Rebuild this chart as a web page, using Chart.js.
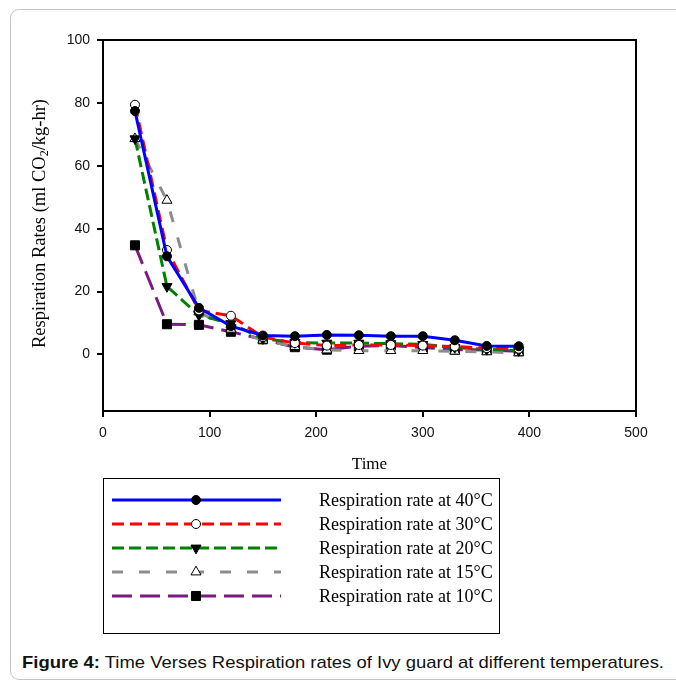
<!DOCTYPE html>
<html>
<head>
<meta charset="utf-8">
<script src="https://cdn.jsdelivr.net/npm/chart.js@4.4.1/dist/chart.umd.min.js"></script>
<style>
  html, body { margin: 0; padding: 0; background: #fff; overflow: hidden; }
  #frame {
    position: absolute; left: 10px; top: 9px; width: 700px; height: 671px;
    border: 1px solid #c4c4c4; border-radius: 9px; box-sizing: border-box;
  }
  #chart { position: absolute; left: 0; top: 0; }
  #caption {
    position: absolute; left: 22px; top: 653px; white-space: nowrap;
    font-family: "Liberation Sans", Arial, sans-serif; font-size: 17px; color: #111;
    transform-origin: 0 0;
  }
</style>
</head>
<body>
<div id="frame"></div>
<canvas id="chart" width="676" height="645"></canvas>
<div id="caption"><b>Figure 4:</b> Time Verses Respiration rates of Ivy guard at different temperatures.</div>
<script>
// === DATA ===
const times = [30, 60, 90, 120, 150, 180, 210, 240, 270, 300, 330, 360, 390];

const rate40 = [77.4, 31.2, 14.8, 9.0, 6.0, 5.8, 6.2, 6.1, 5.8, 5.8, 4.5, 2.7, 2.6];
const rate30 = [79.4, 33.2, 14.0, 12.3, 5.5, 3.6, 2.8, 3.0, 3.0, 2.8, 2.5, 2.0, 1.8];
const rate20 = [68.6, 21.6, 12.5, 9.8, 5.0, 3.8, 3.6, 3.6, 3.4, 3.2, 2.2, 1.6, 1.2];
const rate15 = [68.6, 49.0, 13.5, 8.0, 4.5, 2.5, 1.4, 1.2, 1.2, 1.2, 1.0, 0.8, 0.5];
const rate10 = [34.7, 9.6, 9.4, 7.2, 4.8, 2.3, 1.5, 2.6, 2.8, 2.2, 1.5, 1.4, 1.0];

const seriesLabels = [
  "Respiration rate at 40°C",
  "Respiration rate at 30°C",
  "Respiration rate at 20°C",
  "Respiration rate at 15°C",
  "Respiration rate at 10°C"
];

const xTicks = [0, 100, 200, 300, 400, 500];
const yTicks = [0, 20, 40, 60, 80, 100];

const xTitle = "Time";
const yTitleMain = "Respiration Rates (ml CO";
const yTitleSub = "2";
const yTitleEnd = "/kg-hr)";

// === LAYOUT ===
const area = { left: 103, right: 636, top: 40, bottom: 411 };
const serif = '"Liberation Serif", "Times New Roman", serif';
const sans = '"Liberation Sans", Arial, sans-serif';

function pts(arr) {
  return arr.map((v, i) => ({ x: times[i], y: v }));
}

const datasets = [
  { label: seriesLabels[0], data: pts(rate40), borderColor: "#0000ff", borderDash: [],
    pointStyle: "circle", pointRadius: 4.5, pointBackgroundColor: "#000", pointBorderColor: "#000", pointRotation: 0 },
  { label: seriesLabels[1], data: pts(rate30), borderColor: "#ff0000", borderDash: [12, 6],
    pointStyle: "circle", pointRadius: 4.5, pointBackgroundColor: "#fff", pointBorderColor: "#000", pointRotation: 0 },
  { label: seriesLabels[2], data: pts(rate20), borderColor: "#008000", borderDash: [12, 5],
    pointStyle: "triangle", pointRadius: 5.8, pointBackgroundColor: "#000", pointBorderColor: "#000", pointRotation: 180 },
  { label: seriesLabels[3], data: pts(rate15), borderColor: "#8c8c8c", borderDash: [11, 16],
    pointStyle: "triangle", pointRadius: 5.8, pointBackgroundColor: "#fff", pointBorderColor: "#000", pointRotation: 0 },
  { label: seriesLabels[4], data: pts(rate10), borderColor: "#7a1a82", borderDash: [20, 8],
    pointStyle: "rect", pointRadius: 6.4, pointBackgroundColor: "#000", pointBorderColor: "#000", pointRotation: 0 }
].map(d => Object.assign(d, { borderWidth: 3, pointBorderWidth: 1, tension: 0, fill: false }));

// frame, axis titles and the boxed legend
const extras = {
  id: "extras",
  afterDraw(chart) {
    const ctx = chart.ctx;
    const ca = chart.chartArea;
    ctx.save();

    // plot frame
    ctx.strokeStyle = "#000";
    ctx.lineWidth = 2;
    ctx.strokeRect(ca.left, ca.top, ca.right - ca.left, ca.bottom - ca.top);

    // x title
    ctx.fillStyle = "#000";
    ctx.font = "17px " + serif;
    ctx.textAlign = "center";
    ctx.textBaseline = "middle";
    ctx.fillText(xTitle, (ca.left + ca.right) / 2, 465);

    // y title with subscript
    ctx.save();
    ctx.translate(40, (ca.top + ca.bottom) / 2 - 2);
    ctx.rotate(-Math.PI / 2);
    ctx.textAlign = "left";
    ctx.textBaseline = "middle";
    const mainFont = "18.5px " + serif, subFont = "12px " + serif;
    ctx.font = mainFont;
    const w1 = ctx.measureText(yTitleMain).width;
    const w3 = ctx.measureText(yTitleEnd).width;
    ctx.font = subFont;
    const w2 = ctx.measureText(yTitleSub).width;
    let x0 = -(w1 + w2 + w3) / 2;
    ctx.font = mainFont;
    ctx.fillText(yTitleMain, x0, 0);
    ctx.font = subFont;
    ctx.fillText(yTitleSub, x0 + w1, 5);
    ctx.font = mainFont;
    ctx.fillText(yTitleEnd, x0 + w1 + w2, 0);
    ctx.restore();

    // legend box
    const box = { left: 103.5, top: 478.5, right: 499.5, bottom: 633.5 };
    ctx.lineWidth = 1;
    ctx.strokeStyle = "#000";
    ctx.strokeRect(box.left, box.top, box.right - box.left, box.bottom - box.top);

    chart.data.datasets.forEach((ds, i) => {
      const y = 500 + i * 24;
      ctx.save();
      ctx.strokeStyle = ds.borderColor;
      ctx.lineWidth = ds.borderWidth;
      ctx.setLineDash(ds.borderDash);
      ctx.beginPath();
      ctx.moveTo(112, y);
      ctx.lineTo(281, y);
      ctx.stroke();
      ctx.restore();

      ctx.fillStyle = ds.pointBackgroundColor;
      ctx.strokeStyle = ds.pointBorderColor;
      ctx.lineWidth = 1;
      Chart.helpers.drawPoint(ctx, {
        pointStyle: ds.pointStyle, radius: ds.pointRadius, rotation: ds.pointRotation, borderWidth: 1
      }, 196, y);

      ctx.fillStyle = "#000";
      ctx.font = "18px " + serif;
      ctx.textAlign = "left";
      ctx.textBaseline = "middle";
      ctx.fillText(ds.label, 319, y + 1);
    });

    ctx.restore();
  }
};

new Chart(document.getElementById("chart"), {
  type: "line",
  data: { datasets: datasets },
  options: {
    responsive: false,
    animation: false,
    layout: { padding: { left: 0, top: area.top, right: 676 - area.right, bottom: 0 } },
    plugins: { legend: { display: false }, tooltip: { enabled: false } },
    scales: {
      x: {
        type: "linear",
        min: 0,
        max: 500,
        afterBuildTicks: s => { s.ticks = xTicks.map(v => ({ value: v })); },
        afterFit: s => { s.height = 645 - area.bottom; },
        grid: { display: true, drawOnChartArea: false, drawTicks: true, tickLength: 6, color: "#000", lineWidth: 2 },
        border: { display: true, color: "#000", width: 2 },
        ticks: { color: "#111", font: { family: sans, size: 14 }, padding: 8, maxRotation: 0 }
      },
      y: {
        type: "linear",
        min: -18,
        max: 100,
        afterBuildTicks: s => { s.ticks = yTicks.map(v => ({ value: v })); },
        afterFit: s => { s.width = area.left; },
        grid: { display: true, drawOnChartArea: false, drawTicks: true, tickLength: 6, color: "#000", lineWidth: 2 },
        border: { display: true, color: "#000", width: 2 },
        ticks: { color: "#111", font: { family: sans, size: 14 }, padding: 7 }
      }
    }
  },
  plugins: [extras]
});

// the caption in the source is a little wider than the font gives
const cap = document.getElementById("caption");
cap.style.transform = "scaleX(" + (642 / cap.getBoundingClientRect().width) + ")";
</script>
</body>
</html>
